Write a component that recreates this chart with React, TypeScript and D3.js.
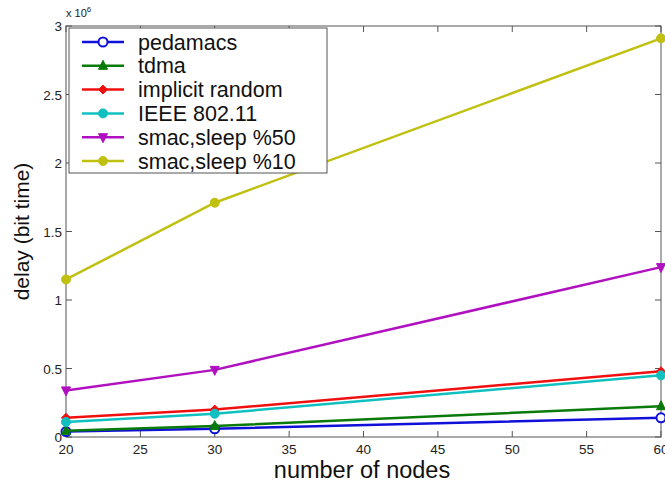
import React from "react";
import * as d3 from "d3";

const nodes = [20, 30, 60];
const seriesNames = ["pedamacs", "tdma", "implicit random", "IEEE 802.11", "smac,sleep %50", "smac,sleep %10"];
const pedamacs = [0.04, 0.06, 0.14];
const tdma = [0.045, 0.08, 0.225];
const implicitRandom = [0.14, 0.2, 0.48];
const ieee = [0.11, 0.17, 0.45];
const smac50 = [0.34, 0.49, 1.24];
const smac10 = [1.15, 1.71, 2.91];
const xTicks = [20, 25, 30, 35, 40, 45, 50, 55, 60];
const yTicks = [0, 0.5, 1, 1.5, 2, 2.5, 3];

const colors = ["#1010d8", "#0a7a0a", "#f01010", "#10c0c0", "#b010c0", "#c0c010"];
const markers = ["circleOpen", "triUp", "diamond", "circle", "triDown", "circle"];
const allValues = [pedamacs, tdma, implicitRandom, ieee, smac50, smac10];

const W = 665, H = 487;
const L = 66, R = 661, T = 26, B = 437;

function Marker({ kind, x, y, color }: { kind: string; x: number; y: number; color: string }) {
  const s = 4.5;
  if (kind === "circleOpen") return <circle cx={x} cy={y} r={s} fill="white" stroke={color} strokeWidth={2} />;
  if (kind === "circle") return <circle cx={x} cy={y} r={s} fill={color} stroke={color} strokeWidth={1} />;
  let pts: number[][] = [];
  if (kind === "triUp") pts = [[x, y - s - 1], [x - s, y + s - 1], [x + s, y + s - 1]];
  if (kind === "triDown") pts = [[x, y + s + 1], [x - s, y - s + 1], [x + s, y - s + 1]];
  if (kind === "diamond") pts = [[x, y - s], [x + s, y], [x, y + s], [x - s, y]];
  return <polygon points={pts.map((p) => p.join(",")).join(" ")} fill={color} stroke={color} strokeWidth={1} />;
}

export default function App() {
  const x = d3.scaleLinear().domain([20, 60]).range([L, R]);
  const y = d3.scaleLinear().domain([0, 3]).range([B, T]);
  const line = d3.line<number>().x((_, i) => x(nodes[i])).y((d) => y(d));
  const font = "Arial, 'Liberation Sans', sans-serif";
  const tickLen = 6;
  return (
    <svg width={W} height={H} style={{ position: "absolute", left: 0, top: 0, background: "white" }} fontFamily={font}>
      <rect x={0} y={0} width={W} height={H} fill="white" />
      <rect x={L} y={T} width={R - L} height={B - T} fill="none" stroke="#555" strokeWidth={1} />
      {xTicks.map((t) => (
        <g key={"x" + t}>
          <line x1={x(t)} x2={x(t)} y1={B} y2={B - tickLen} stroke="#555" />
          <line x1={x(t)} x2={x(t)} y1={T} y2={T + tickLen} stroke="#555" />
          <text x={x(t)} y={B + 17} textAnchor="middle" fontSize={13.5} fill="#222">{t}</text>
        </g>
      ))}
      {yTicks.map((t) => (
        <g key={"y" + t}>
          <line x1={L} x2={L + tickLen} y1={y(t)} y2={y(t)} stroke="#555" />
          <line x1={R} x2={R - tickLen} y1={y(t)} y2={y(t)} stroke="#555" />
          <text x={L - 4} y={y(t) + 5} textAnchor="end" fontSize={13.5} fill="#222">{t}</text>
        </g>
      ))}
      <text x={66} y={17} fontSize={11} fill="#222">x 10<tspan dy={-5} fontSize={8}>6</tspan></text>
      <text transform={`translate(29,${(T + B) / 2}) rotate(-90)`} textAnchor="middle" fontSize={21} fill="#111">delay (bit time)</text>
      <text x={362} y={478} textAnchor="middle" fontSize={23.5} fill="#111">number of nodes</text>
      {allValues.map((vals, si) => (
        <g key={"s" + si}>
          <path d={line(vals) || ""} fill="none" stroke={colors[si]} strokeWidth={2.5} />
          {vals.map((v, i) => (
            <Marker key={i} kind={markers[si]} x={x(nodes[i])} y={y(v)} color={colors[si]} />
          ))}
        </g>
      ))}
      <rect x={69} y={28} width={258} height={145} fill="white" stroke="#555" strokeWidth={1} />
      {seriesNames.map((n, i) => {
        const ly = 42 + i * 23.8;
        return (
          <g key={"l" + i}>
            <line x1={82} x2={124} y1={ly} y2={ly} stroke={colors[i]} strokeWidth={2.5} />
            <Marker kind={markers[i]} x={103} y={ly} color={colors[i]} />
            <text x={138} y={ly + 7.5} fontSize={21.5} fill="#111">{n}</text>
          </g>
        );
      })}
    </svg>
  );
}
